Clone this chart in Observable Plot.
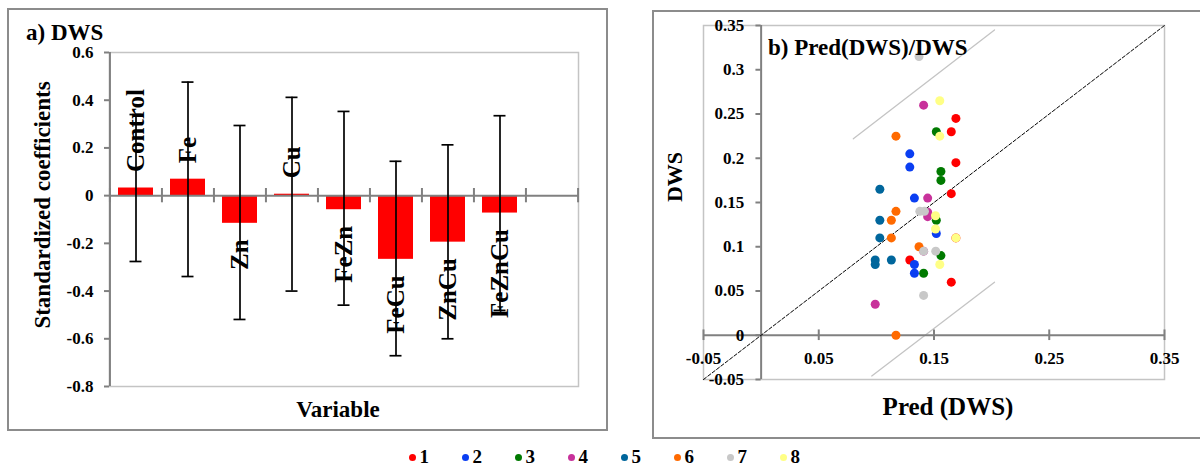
<!DOCTYPE html>
<html>
<head>
<meta charset="utf-8">
<script src="https://cdn.jsdelivr.net/npm/d3@7"></script>
<script src="https://cdn.jsdelivr.net/npm/@observablehq/plot@0.6"></script>
<style>
  html, body { margin: 0; padding: 0; background: #fff; }
  body { width: 1200px; height: 468px; overflow: hidden; position: relative;
         font-family: "Liberation Serif", "Times New Roman", serif; }
  .panel { position: absolute; border: 2px solid #8c8c8c; box-sizing: border-box; }
  .t { position: absolute; font-weight: bold; color: #000; white-space: nowrap; line-height: 1; }
  .leg { position: absolute; top: 447px; height: 20px; display: flex; align-items: center; }
  .leg span.d { display: inline-block; width: 7px; height: 7px; border-radius: 50%; }
  .leg span.l { margin-left: 4px; font-weight: bold; font-size: 19px; line-height: 20px; }
</style>
</head>
<body>
<div class="panel" style="left:7px;top:8px;width:601px;height:423px;"></div>
<div class="panel" style="left:652px;top:10px;width:560px;height:429px;"></div>
<div id="app"></div>
<script>
// ---------- Panel a) data ----------
const categories = ["Control", "Fe", "Zn", "Cu", "FeZn", "FeCu", "ZnCu", "FeZnCu"];
const coefficients = [0.032, 0.069, -0.116, 0.006, -0.059, -0.267, -0.195, -0.073];
const errLow  = [-0.276, -0.339, -0.519, -0.400, -0.459, -0.671, -0.600, -0.481];
const errHigh = [0.340, 0.476, 0.294, 0.412, 0.353, 0.144, 0.213, 0.335];
const coefTicks = [-0.8, -0.6, -0.4, -0.2, 0, 0.2, 0.4, 0.6];
const emptySlot = "(none)";

// ---------- Panel b) data ----------
const groups = ["1", "2", "3", "4", "5", "6", "7", "8"];
const groupColors = ["#ff0000", "#0a3ef2", "#007a00", "#c8329b", "#00669c", "#ff6a00", "#c8c8c8", "#ffff85"];
const pred1 = [0.169, 0.165, 0.169, 0.165, 0.169, 0.129, 0.165];
const dws1  = [0.245, 0.230, 0.195, 0.160, 0.110, 0.085, 0.060];
const pred2 = [0.129, 0.129, 0.133, 0.152, 0.133, 0.133];
const dws2  = [0.205, 0.190, 0.155, 0.115, 0.080, 0.070];
const pred3 = [0.152, 0.156, 0.156, 0.152, 0.156, 0.141];
const dws3  = [0.230, 0.185, 0.175, 0.130, 0.090, 0.070];
const pred4 = [0.141, 0.1445, 0.1445, 0.1445, 0.141, 0.099];
const dws4  = [0.260, 0.155, 0.139, 0.134, 0.095, 0.035];
const pred5 = [0.103, 0.103, 0.103, 0.099, 0.099, 0.113];
const dws5  = [0.165, 0.130, 0.110, 0.085, 0.080, 0.085];
const pred6 = [0.117, 0.117, 0.113, 0.113, 0.137, 0.117];
const dws6  = [0.225, 0.140, 0.130, 0.110, 0.100, 0.000];
const pred7 = [0.137, 0.1377, 0.1417, 0.141, 0.1515, 0.141];
const dws7  = [0.315, 0.140, 0.140, 0.095, 0.095, 0.045];
const pred8 = [0.155, 0.155, 0.1513, 0.1513, 0.169, 0.155];
const dws8  = [0.265, 0.225, 0.135, 0.120, 0.110, 0.080];
const identityLine = [[-0.05, -0.05], [0.35, 0.35]];
const upperBound = [[0.080, 0.222], [0.2025, 0.345]];
const lowerBound = [[0.096, -0.046], [0.2025, 0.060]];
const predTicks = [-0.05, 0.05, 0.15, 0.25, 0.35];
const dwsTicks = [-0.05, 0, 0.05, 0.1, 0.15, 0.2, 0.25, 0.3, 0.35];

// ---------- build tables ----------
const rows = categories.map((c, i) => ({cat: c, value: coefficients[i], low: errLow[i], high: errHigh[i]}));
const predBy = [pred1, pred2, pred3, pred4, pred5, pred6, pred7, pred8];
const dwsBy = [dws1, dws2, dws3, dws4, dws5, dws6, dws7, dws8];
const points = groups.flatMap((g, i) => predBy[i].map((p, j) => ({group: g, pred: p, dws: dwsBy[i][j]})));

const fmt = d => d === 0 ? "0" : String(d);
const fontFamily = "'Liberation Serif', 'Times New Roman', serif";
const axisGray = "#808080";

// ---------- Panel a ----------
const slots = [...categories, emptySlot];
const WA = 601, mLA = 109, mRA = 23;
const step = (WA - mLA - mRA) / slots.length;
const boldStyle = (left) => ({position: "absolute", left: left + "px", top: "0px", fontFamily,
  fontWeight: "bold", fontSize: "17px", color: "#000", background: "transparent", overflow: "visible"});

const plotA = Plot.plot({
  width: WA, height: 440,
  marginLeft: mLA, marginRight: mRA, marginTop: 52, marginBottom: 54,
  style: boldStyle(0),
  x: {type: "band", domain: slots, paddingInner: 0.33, paddingOuter: 0.165, axis: null},
  y: {domain: [-0.8, 0.6], axis: null},
  marks: [
    Plot.frame({stroke: "#c4c4c4", strokeWidth: 1.5}),
    Plot.barY(rows, {x: "cat", y: "value", fill: "#ff0000"}),
    Plot.ruleY([0], {stroke: axisGray, strokeWidth: 2}),
    Plot.ruleX(slots, {x: d => d, y1: -0.03, y2: 0.03, dx: -step / 2, stroke: axisGray, strokeWidth: 2}),
    Plot.ruleX([emptySlot], {x: d => d, y1: -0.03, y2: 0.03, dx: step / 2, stroke: axisGray, strokeWidth: 2}),
    Plot.ruleX([slots[0]], {x: d => d, y1: -0.8, y2: 0.6, dx: -step / 2, stroke: axisGray, strokeWidth: 2}),
    Plot.axisY({ticks: coefTicks, anchor: "left", tickSize: 5, tickPadding: 11, stroke: axisGray,
      strokeWidth: 2, fill: "#000", tickFormat: d => d === 0 ? "0" : d.toFixed(1), label: null}),
    Plot.ruleX(rows, {x: "cat", y1: "low", y2: "high", stroke: "#000", strokeWidth: 1.7}),
    Plot.tickY(rows, {x: "cat", y: "low", stroke: "#000", strokeWidth: 1.7, insetLeft: 11.5, insetRight: 11.5}),
    Plot.tickY(rows, {x: "cat", y: "high", stroke: "#000", strokeWidth: 1.7, insetLeft: 11.5, insetRight: 11.5}),
    Plot.text(rows, {filter: d => d.value >= 0, x: "cat", y: "value", text: "cat", rotate: -90,
      textAnchor: "start", lineAnchor: "middle", dy: -16, fontSize: 25, fontWeight: "bold", fill: "#000"}),
    Plot.text(rows, {filter: d => d.value < 0, x: "cat", y: "value", text: "cat", rotate: -90,
      textAnchor: "end", lineAnchor: "middle", dy: 16, fontSize: 25, fontWeight: "bold", fill: "#000"})
  ]
});

// ---------- Panel b ----------
const plotB = Plot.plot({
  width: 560, height: 440,
  marginLeft: 63, marginRight: 36, marginTop: 25, marginBottom: 61,
  style: boldStyle(640),
  x: {domain: [-0.05, 0.35], axis: null},
  y: {domain: [-0.05, 0.35], axis: null},
  color: {domain: groups, range: groupColors},
  marks: [
    Plot.frame({stroke: "#c4c4c4", strokeWidth: 1.5}),
    Plot.line(upperBound, {x: d => d[0], y: d => d[1], stroke: "#c4c4c4", strokeWidth: 1.3}),
    Plot.line(lowerBound, {x: d => d[0], y: d => d[1], stroke: "#c4c4c4", strokeWidth: 1.3}),
    Plot.ruleY([0], {stroke: axisGray, strokeWidth: 2}),
    Plot.ruleX([0], {stroke: axisGray, strokeWidth: 2}),
    Plot.ruleX(predTicks, {x: d => d, y1: -0.006, y2: 0.006, stroke: axisGray, strokeWidth: 2}),
    Plot.ruleY(dwsTicks, {y: d => d, x1: -0.0045, x2: 0, stroke: axisGray, strokeWidth: 2}),
    Plot.line(identityLine, {x: d => d[0], y: d => d[1], stroke: "#000", strokeWidth: 1, strokeDasharray: "3.5,2"}),
    Plot.text(predTicks, {x: d => d, y: 0, text: fmt, dy: 23, fill: "#000"}),
    Plot.text(dwsTicks, {x: 0, y: d => d, text: fmt, textAnchor: "end", dx: -17, fill: "#000"}),
    Plot.dot(points, {x: "pred", y: "dws", fill: "group", r: 4.5})
  ]
});

const app = document.getElementById("app");
app.appendChild(plotA);
app.appendChild(plotB);

// ---------- HTML texts ----------
function addText(txt, opts) {
  const d = document.createElement("div");
  d.className = "t";
  d.textContent = txt;
  Object.assign(d.style, opts);
  document.body.appendChild(d);
}
addText("a) DWS", {left: "26px", top: "20.5px", fontSize: "23px"});
addText("Variable", {left: "338px", top: "397.5px", fontSize: "23px", transform: "translateX(-50%)"});
addText("Standardized coefficients", {left: "42px", top: "205px", fontSize: "23px",
  transform: "translate(-50%,-50%) rotate(-90deg)"});
addText("b) Pred(DWS)/DWS", {left: "768px", top: "35.5px", fontSize: "23px"});
addText("Pred (DWS)", {left: "948px", top: "394px", fontSize: "25px", transform: "translateX(-50%)"});
addText("DWS", {left: "675px", top: "177px", fontSize: "22px", transform: "translate(-50%,-50%) rotate(-90deg)"});

// ---------- legend ----------
groups.forEach((g, i) => {
  const item = document.createElement("div");
  item.className = "leg";
  item.style.left = (408.5 + 53 * i) + "px";
  const dot = document.createElement("span");
  dot.className = "d";
  dot.style.background = groupColors[i];
  const lab = document.createElement("span");
  lab.className = "l";
  lab.textContent = g;
  item.appendChild(dot);
  item.appendChild(lab);
  document.body.appendChild(item);
});
</script>
</body>
</html>
